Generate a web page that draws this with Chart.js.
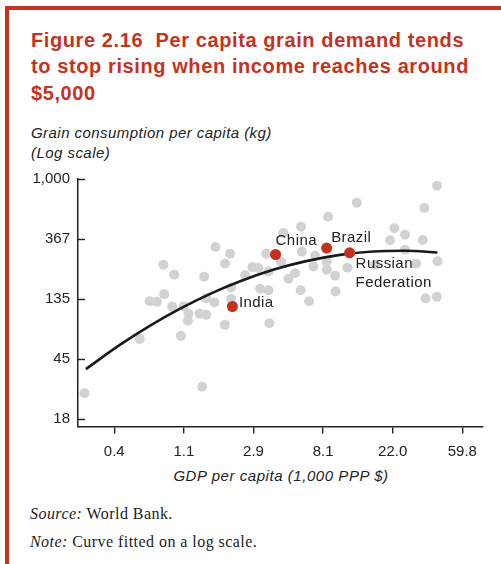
<!DOCTYPE html>
<html>
<head>
<meta charset="utf-8">
<script src="https://cdn.jsdelivr.net/npm/chart.js@4.4.1/dist/chart.umd.min.js"></script>
<style>
  html, body { margin:0; padding:0; background:#fff; }
  body { width:501px; height:564px; position:relative; overflow:hidden; font-family:"Liberation Sans", Arial, sans-serif; }
  #frameL { position:absolute; left:5px; top:6px; width:4px; height:558px; background:#c5321e; }
  #frameT { position:absolute; left:5px; top:6px; width:496px; height:4px; background:#c5321e; }
  #title { position:absolute; left:31px; top:27px; color:#c5321e; font-weight:bold; font-size:20px; letter-spacing:0.6px; line-height:26.3px; white-space:nowrap; }
  #ytitle { position:absolute; left:31px; top:123px; color:#222; font-style:italic; font-size:15px; letter-spacing:0.45px; line-height:20px; white-space:nowrap; }
  #xtitle { position:absolute; left:0; width:562px; top:467px; text-align:center; color:#222; font-style:italic; font-size:15px; letter-spacing:0.55px; white-space:nowrap; }
  .foot { position:absolute; left:30px; color:#222; font-family:"Liberation Serif", "Times New Roman", serif; font-size:16px; letter-spacing:0.45px; white-space:nowrap; }
  #chart { position:absolute; left:0; top:0; }
</style>
</head>
<body>
<div id="frameL"></div>
<div id="frameT"></div>
<div id="title">Figure 2.16&nbsp; Per capita grain demand tends<br>to stop rising when income reaches around<br>$5,000</div>
<div id="ytitle">Grain consumption per capita (kg)<br>(Log scale)</div>
<div id="xtitle">GDP per capita (1,000 PPP $)</div>
<div class="foot" style="top:505px"><i>Source:</i> World Bank.</div>
<div class="foot" style="top:533px"><i>Note:</i> Curve fitted on a log scale.</div>
<canvas id="chart" width="501" height="564"></canvas>
<script>
// Tick values and labels (log scales, natural-log spacing)
const xTickValues = [0.4032, 1.096, 2.979, 8.098, 22.01, 59.8];
const xTickLabels = ['0.4', '1.1', '2.9', '8.1', '22.0', '59.8'];
const yTickValues = [18.32, 49.79, 135.3, 367.9, 1000];
const yTickLabels = ['18', '45', '135', '367', '1,000'];

// Highlighted countries
const hlNames = ['China', 'Brazil', 'Russian\nFederation', 'India'];
const hlGdp   = [4.09, 8.52, 11.85, 2.20];
const hlGrain = [284.6, 316.6, 292.8, 119.7];

// Other countries
const otherGdp = [0.263, 0.581, 0.671, 0.744, 0.818, 0.826, 0.927, 0.953, 1.050, 1.090,
  1.171, 1.161, 1.372, 1.510, 1.425, 1.467, 1.510, 1.701, 1.725, 1.974,
  1.982, 2.130, 2.162, 2.162, 2.643, 2.933, 3.196, 3.691, 3.277, 3.691,
  3.743, 3.572, 4.577, 4.918, 5.414, 5.900, 5.966, 5.859, 6.619, 7.043,
  8.534, 8.697, 9.621, 9.689, 11.47, 13.13, 21.18, 22.53, 26.26, 26.26,
  33.89, 34.65, 41.6, 41.9, 35.27, 41.4, 7.214, 30.75, 17.08, 4.428, 8.534];
const otherGrain = [28.3, 69.8, 130.5, 129.4, 239.8, 147.1, 119.7, 203, 73.4, 119.7,
  106.0, 94.3, 106, 104.2, 31.5, 196.4, 137.7, 127.9, 322, 88.2,
  245, 288, 164.2, 136, 202, 230.7, 227, 214.4, 160.8, 156.8,
  90.7, 288, 406.7, 189.8, 208, 451.7, 297.6, 156.8, 130.5, 233,
  220.5, 533, 199.5, 153.7, 228, 673, 360.7, 440.6, 395, 308,
  362, 617, 894, 254, 136.7, 140.6, 278.6, 243.7, 239.8, 252, 252];

// Fitted curve
const curveGdp   = [0.268, 0.439, 0.675, 1.039, 1.598, 2.46, 3.95, 6.25, 10.32, 16.6, 26.3, 41.8];
const curveGrain = [42.2, 63.4, 87.1, 115.5, 147.8, 182.3, 220.5, 253.7, 282.6, 299, 302.7, 294];

const toPts = (xs, ys) => xs.map((x, i) => ({ x: x, y: ys[i] }));

const labelOffsets = [[0, -14], [4.5, -10.5], [6, 11], [6.5, -3.5]];

const inwardTicks = {
  id: 'inwardTicks',
  afterDraw(chart) {
    const ctx = chart.ctx, ys = chart.scales.y, a = chart.chartArea;
    ctx.save();
    ctx.strokeStyle = '#222';
    ctx.lineWidth = 1.4;
    ys.ticks.forEach(t => {
      const py = Math.round(ys.getPixelForValue(t.value)) + 0.5;
      ctx.beginPath();
      ctx.moveTo(a.left, py);
      ctx.lineTo(a.left + 7, py);
      ctx.stroke();
    });
    ctx.restore();
  }
};

const pointLabels = {
  id: 'pointLabels',
  afterDatasetsDraw(chart) {
    const ctx = chart.ctx, xs = chart.scales.x, ys = chart.scales.y;
    ctx.save();
    ctx.fillStyle = '#222';
    ctx.font = '15px "Liberation Sans", Arial, sans-serif';
    if ('letterSpacing' in ctx) ctx.letterSpacing = '0.45px';
    ctx.textAlign = 'left';
    ctx.textBaseline = 'middle';
    hlNames.forEach((n, i) => {
      const px = xs.getPixelForValue(hlGdp[i]) + labelOffsets[i][0];
      const py = ys.getPixelForValue(hlGrain[i]) + labelOffsets[i][1];
      n.split('\n').forEach((line, j) => ctx.fillText(line, px, py + j * 19.5));
    });
    ctx.restore();
  }
};

new Chart(document.getElementById('chart'), {
  type: 'scatter',
  data: {
    datasets: [
      { label: 'Highlighted', data: toPts(hlGdp, hlGrain), backgroundColor: '#c4311c', borderWidth: 0, pointRadius: 5.5, order: 0 },
      { label: 'Fit', type: 'line', data: toPts(curveGdp, curveGrain), borderColor: '#1a1a1a', borderWidth: 2.6,
        pointRadius: 0, fill: false, cubicInterpolationMode: 'monotone', order: 1 },
      { label: 'Countries', data: toPts(otherGdp, otherGrain), backgroundColor: '#d2d2d2', borderWidth: 0, pointRadius: 5, order: 2 }
    ]
  },
  options: {
    responsive: false,
    animation: false,
    devicePixelRatio: 1,
    layout: { padding: { left: 18, right: 18, top: 179, bottom: 97.5 } },
    plugins: { legend: { display: false }, tooltip: { enabled: false } },
    scales: {
      x: {
        type: 'logarithmic',
        min: 0.2395, max: 80.5,
        afterBuildTicks: s => { s.ticks = xTickValues.map(v => ({ value: v })); },
        afterFit: s => { s.height = 40; },
        grid: { drawOnChartArea: false, drawTicks: true, tickLength: 7, color: '#222', lineWidth: 1.4 },
        border: { display: true, color: '#222', width: 1.5 },
        ticks: { autoSkip: false, maxRotation: 0, padding: 9, color: '#222',
          font: { family: '"Liberation Sans", Arial, sans-serif', size: 15 },
          callback: (v, i) => xTickLabels[i] }
      },
      y: {
        type: 'logarithmic',
        min: 16.24, max: 1000,
        afterBuildTicks: s => { s.ticks = yTickValues.map(v => ({ value: v })); },
        afterFit: s => { s.width = 60; },
        grid: { drawOnChartArea: false, drawTicks: false },
        border: { display: true, color: '#222', width: 1.5 },
        ticks: { autoSkip: false, padding: 8, color: '#222',
          font: { family: '"Liberation Sans", Arial, sans-serif', size: 15 },
          callback: (v, i) => yTickLabels[i] }
      }
    }
  },
  plugins: [inwardTicks, pointLabels]
});
</script>
</body>
</html>
